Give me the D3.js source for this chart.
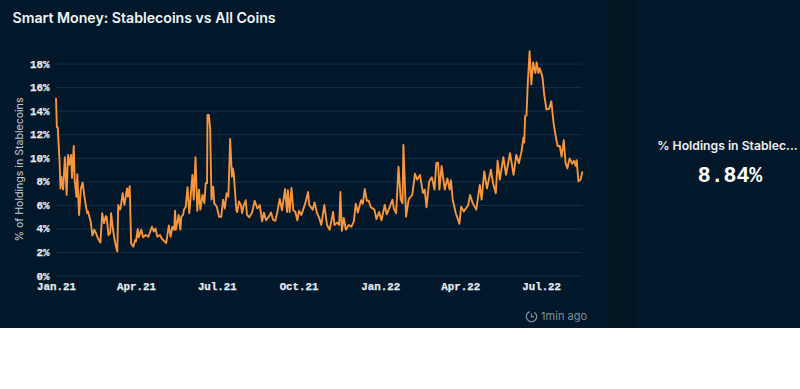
<!DOCTYPE html>
<html><head><meta charset="utf-8">
<script src="https://cdn.jsdelivr.net/npm/d3@7"></script>
<style>html,body{margin:0;padding:0;background:#fff;overflow:hidden}svg{display:block}</style>
</head><body><svg id="c" width="800" height="389"></svg>
<script>
const startDate = "2021-01-01";
const dayOffsets = [0,1,2,4,5,6,8,10,12,13.5,15,17,18,20,21,23,24,26,28,30,32,35,36,39,41,43,45,47,50,52,54,56,57,59,61,62,64,66,68,69,70,72,73,75,77,80,81,83,84.5,87,89,90,92,93,96,98,101,104,108,110,112,114,117,119,124,127,129,131,133,134,135,137,138,140,141,143,144,146,148,150,151,153.5,155,157,159,161,162.5,165,167,168.5,170,170.5,172,173.5,175,177,178,181,183.5,186,188,190,192,194,196,198,199,200,
203,204,206,208,209.5,211,213.5,215,217.5,220.7,223.6,226.6,229.3,232,234,236.4,239.4,242,244.3,246.9,249.5,251.8,254.4,257.8,260,261,263,265,267.1,269.4,271.6,273.5,276.2,280.6,283.7,285,288.9,291,293.8,296.4,298.6,302,305,308,311.9,313.4,316.4,318.7,320.1,321.7,323.9,326.2,329.5,332.5,335.2,337.4,339.7,343.4,345.3,347.5,349.8,352,354.3,358.4,360.6,363.7,366.3,370,372.3,375.7,378.7,380.2,382.8,
385.5,388,390,391,394,397,401,404,406.5,409.6,413,415,417,420,423,426,428,430,431.5,434,437.5,440.5,443,444.5,446.5,450,454,456,459,464,466,469,473,477,479,482,485,489.5,492,495,497,499.5,503.5,506.5,511,515,518,521,524,526,527,528,529.5,531,533,535,537,539.5,541,543,544.5,547.5,549.5,552,555,557.5,560,562.5,564.5,567,569,571.5,573.5,575.5,578,581,583,585,586,588,590.5,592.5];
const holdings = [15.07,12.6,12.6,9.7,7.4,8.4,7.3,10.05,6.85,10.25,9.4,10.25,8.3,11,8.1,6.7,8.6,5.15,7.4,7.9,6.7,5.3,5.45,4.6,3.4,3.9,3.6,3.2,2.8,5.3,4.45,5.05,5,3.45,3.6,5.3,4,3,2.3,2.05,6,5.6,5.85,7,6,7.4,6.7,7.6,2.75,2.45,3,2.9,3.95,3.25,3.9,3.25,3.45,3.3,4.15,3.75,4,3.3,3.45,3.15,2.75,4.25,3.3,4.15,3.9,5.5,3.9,4.7,5.15,3.9,5,5.15,5.6,5.85,7.5,5.3,6.15,8.55,6.45,10.05,5.5,7.3,5.6,6.85,6.15,7.85,7.85,13.65,13.65,12.5,6.45,7.55,6.15,5.85,5,5,6.45,5.7,7,6.7,11.6,8.4,9.1,8.7,
5.55,5.4,6.3,6,5.3,5.9,6.4,5.15,4.95,5.35,6.35,5.7,6,4.6,5.35,4.7,5,5.35,4.75,4.65,5.55,6.5,5.55,7.35,5.4,7.25,5.4,7.45,5.55,5.4,4.7,5.5,5.15,6.15,7.1,6,5.6,6.2,5.3,4.85,4.3,6,4.3,3.9,5.4,4.3,4.5,4.3,7.1,3.8,4.9,3.9,4.3,4.15,4.6,6.1,5.35,6.4,6.1,7.35,6.35,6.35,5.8,5.6,4.8,5.4,4.7,6,5.2,5.85,6.45,5.7,5.3,
9.25,6.45,6.15,11.1,5,6.5,6.85,8.65,8.15,8.55,7,7.3,5.8,8,8.35,7.3,9.55,9.6,7.3,9.3,7.3,8.25,7.3,8.1,6.45,5.3,4.4,5.85,5.45,6,6.85,6.15,5.6,7.7,6.45,8.85,7.4,9,7.8,7,9.75,8.15,10.05,8.55,10.4,8.55,10.25,9.55,10.55,11.7,11.3,13.55,13.6,16.35,19.05,16.25,18.1,17.2,18.1,17.2,17.6,16.85,15.35,14.1,14.15,14.8,12.95,11.8,11,11,10.1,11.5,9.55,9.1,9.95,9.5,9.75,9.3,9.8,8,8.15,8.84];
const yTicks = [0,2,4,6,8,10,12,14,16,18];
const xTickDates = ["2021-01-01","2021-04-01","2021-07-01","2021-10-01","2022-01-01","2022-04-01","2022-07-01"];
const xTickLabels = ["Jan.21","Apr.21","Jul.21","Oct.21","Jan.22","Apr.22","Jul.22"];
const titleText = "Smart Money: Stablecoins vs All Coins";
const yAxisTitle = "% of Holdings in Stablecoins";
const counterLabel = "% Holdings in Stablec...";
const counterValue = "8.84%";
const updatedText = "1min ago";

const parse = d3.utcParse("%Y-%m-%d");
const t0 = parse(startDate);
const dates = dayOffsets.map(d => new Date(+t0 + d*864e5));
const svg = d3.select("#c");
const sans = "Inter, 'Noto Sans', sans-serif";
const mono = "'Liberation Mono', 'DejaVu Sans Mono', monospace";

svg.append("rect").attr("width",800).attr("height",328).attr("fill","#01182a");
svg.append("rect").attr("x",608).attr("width",28.5).attr("height",328).attr("fill","#011522");

const x = d3.scaleUtc().domain([t0, parse("2022-08-16")]).range([56,582]);
const y = d3.scaleLinear().domain([0,18]).range([275.6,63.6]);

svg.append("text").attr("x",12.5).attr("y",22.5).attr("fill","#f2f5f7").attr("font-family",sans)
  .attr("font-size",14.15).attr("font-weight",600).text(titleText);

const ya = svg.append("g").attr("transform","translate(56,0)")
  .call(d3.axisLeft(y).tickValues(yTicks).tickSize(0).tickPadding(6.5).tickFormat(d=>d+"%"));
ya.select(".domain").remove();
ya.selectAll("text").attr("fill","#e6ebee").attr("font-family",mono).attr("font-size",10.8).attr("font-weight",700)
  .attr("stroke","#e6ebee").attr("stroke-width",0.25);
ya.selectAll(".tick").append("line").attr("x1",0).attr("x2",526).attr("stroke","#0f3149").attr("stroke-width",1);

const xa = svg.append("g").attr("transform","translate(0,275.6)")
  .call(d3.axisBottom(x).tickValues(xTickDates.map(parse)).tickSize(0).tickPadding(7).tickFormat((d,i)=>xTickLabels[i]));
xa.select(".domain").remove();
xa.selectAll("text").attr("fill","#e6ebee").attr("font-family",mono).attr("font-size",10.8).attr("font-weight",700)
  .attr("stroke","#e6ebee").attr("stroke-width",0.25);

svg.append("text").attr("transform","translate(22.5,169.5) rotate(-90)").attr("text-anchor","middle")
  .attr("fill","#c3cbd1").attr("font-family",sans).attr("font-size",10.6).text(yAxisTitle);

const line = d3.line().x((d,i)=>x(dates[i])).y(d=>y(d)).curve(d3.curveLinear);
svg.append("path").datum(holdings).attr("d",line).attr("fill","none").attr("stroke","#f9953b")
  .attr("stroke-width",1.9).attr("stroke-linejoin","round");

svg.append("text").attr("x",727.5).attr("y",150).attr("text-anchor","middle").attr("fill","#eef1f3")
  .attr("font-family",sans).attr("font-size",12.2).attr("font-weight",600).text(counterLabel);
svg.append("text").attr("x",730).attr("y",182).attr("text-anchor","middle").attr("fill","#ffffff")
  .attr("font-family",mono).attr("font-size",21.5).attr("font-weight",700).text(counterValue);

svg.append("text").attr("x",587).attr("y",320).attr("text-anchor","end").attr("fill","#7f8d98")
  .attr("font-family",sans).attr("font-size",11).text(updatedText);
const ic = svg.append("g").attr("fill","none").attr("stroke","#7f8d98").attr("stroke-width",1.3);
ic.append("path").attr("d",d3.arc()({innerRadius:5.2,outerRadius:5.2,startAngle:0.6,endAngle:6.0})).attr("transform","translate(531.5,316.5)");
ic.append("path").attr("d","M531.5 313.5V316.8H534");
</script></body></html>
